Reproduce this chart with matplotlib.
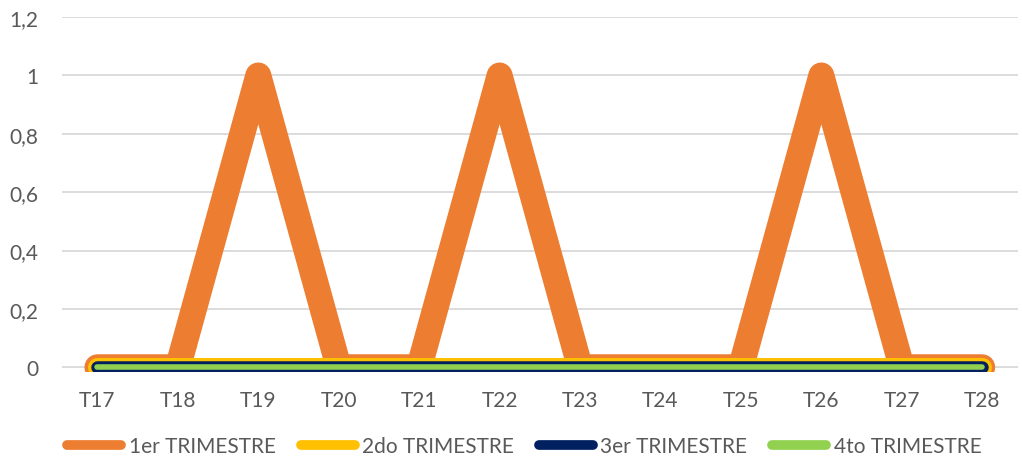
import matplotlib
matplotlib.use("Agg")
import matplotlib.pyplot as plt
from matplotlib.lines import Line2D

plt.rcParams['font.family'] = ['Lato', 'DejaVu Sans']

trimestres = ['T17', 'T18', 'T19', 'T20', 'T21', 'T22', 'T23', 'T24', 'T25', 'T26', 'T27', 'T28']
t1 = [0, 0, 1, 0, 0, 1, 0, 0, 0, 1, 0, 0]
t2 = [0, 0, 0, 0, 0, 0, 0, 0, 0, 0, 0, 0]
t3 = [0, 0, 0, 0, 0, 0, 0, 0, 0, 0, 0, 0]
t4 = [0, 0, 0, 0, 0, 0, 0, 0, 0, 0, 0, 0]
nombres = ['1er TRIMESTRE', '2do TRIMESTRE', '3er TRIMESTRE', '4to TRIMESTRE']
colores = ['#ED7D31', '#FFC000', '#002060', '#92D050']
anchos = [18.7, 13.7, 9.0, 4.0]

gris = '#595959'

fig = plt.figure(figsize=(10.22, 4.64), dpi=100)
ax = fig.add_axes([0.0607, 0.196, 0.935, 0.765])

x = range(len(trimestres))
for serie, c, w in zip([t1, t2, t3, t4], colores, anchos):
    ax.plot(x, serie, color=c, linewidth=w, solid_capstyle='round', solid_joinstyle='round', zorder=3)

ax.set_xlim(-0.44, 11.44)
ax.set_ylim(-0.0165, 1.2)
ax.set_yticks([0, 0.2, 0.4, 0.6, 0.8, 1.0, 1.2])
ax.set_yticklabels(['0', '0,2', '0,4', '0,6', '0,8', '1', '1,2'])
ax.set_xticks(list(x))
ax.set_xticklabels(trimestres)
ax.grid(True, axis='y', color='#D9D9D9', linewidth=1.3)
ax.set_axisbelow(True)
for s in ax.spines.values():
    s.set_visible(False)
ax.tick_params(length=0, labelsize=15, colors=gris, pad=13)
ax.tick_params(axis='y', pad=17)

handles = [Line2D([0], [0], color=c, linewidth=7, solid_capstyle='round') for c in colores]
leg = fig.legend(handles, nombres, loc='center', bbox_to_anchor=(0.513, 0.037), ncol=4,
                 frameon=False, fontsize=15, handlelength=2.6, handletextpad=0.35,
                 columnspacing=1.2)
for t in leg.get_texts():
    t.set_color(gris)

fig.savefig('out.png', dpi=100)
